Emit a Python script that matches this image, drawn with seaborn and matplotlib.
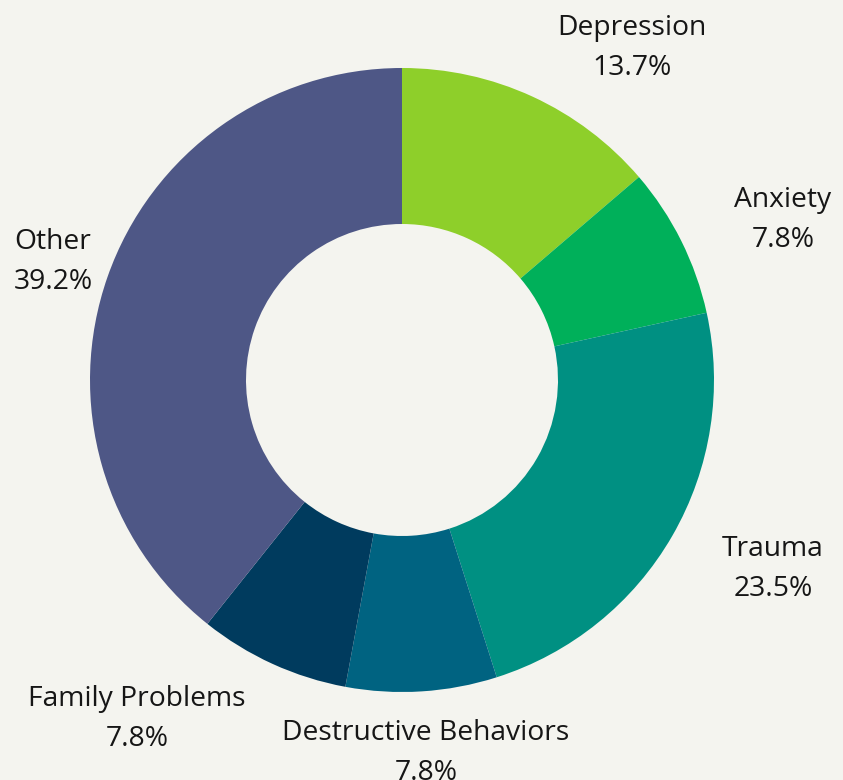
import matplotlib
matplotlib.use("Agg")
import matplotlib.pyplot as plt
import seaborn as sns
import numpy as np

categories = ["Depression", "Anxiety", "Trauma", "Destructive Behaviors", "Family Problems", "Other"]
percentages = [13.7, 7.8, 23.5, 7.8, 7.8, 39.2]
hex_colors = ["#8ecf2a", "#00b05a", "#009082", "#006381", "#003b5e", "#4e5786"]

sns.set_theme(style="white")
plt.rcParams["font.family"] = ["Open Sans", "DejaVu Sans"]

BG = "#f4f4ef"
W, H = 843, 780
CX, CY, R = 402, 380, 312  # pixel layout of the donut

fig = plt.figure(figsize=(W / 100, H / 100), dpi=100, facecolor=BG)
ax = fig.add_axes([0, 0, 1, 1])
ax.set_facecolor(BG)

palette = sns.color_palette(hex_colors)
wedges, _ = ax.pie(percentages, colors=palette, startangle=90, counterclock=False,
                   radius=1.0, wedgeprops=dict(width=0.5, linewidth=0, edgecolor=BG))

ax.set_xlim(-CX / R, (W - CX) / R)
ax.set_ylim(-(H - CY) / R, CY / R)
ax.set_aspect("equal")
ax.axis("off")

# label block centres (pixel layout)
label_px = [(632, 48), (783, 220), (773, 569), (426, 753), (137, 719), (53, 262)]
for cat, pct, (px, py) in zip(categories, percentages, label_px):
    ax.text((px - CX) / R, (CY - py) / R, f"{cat}\n{pct:.1f}%",
            ha="center", va="center", fontsize=20.3, color="#161616", linespacing=1.55)

fig.savefig("out.png", dpi=100, facecolor=BG)
